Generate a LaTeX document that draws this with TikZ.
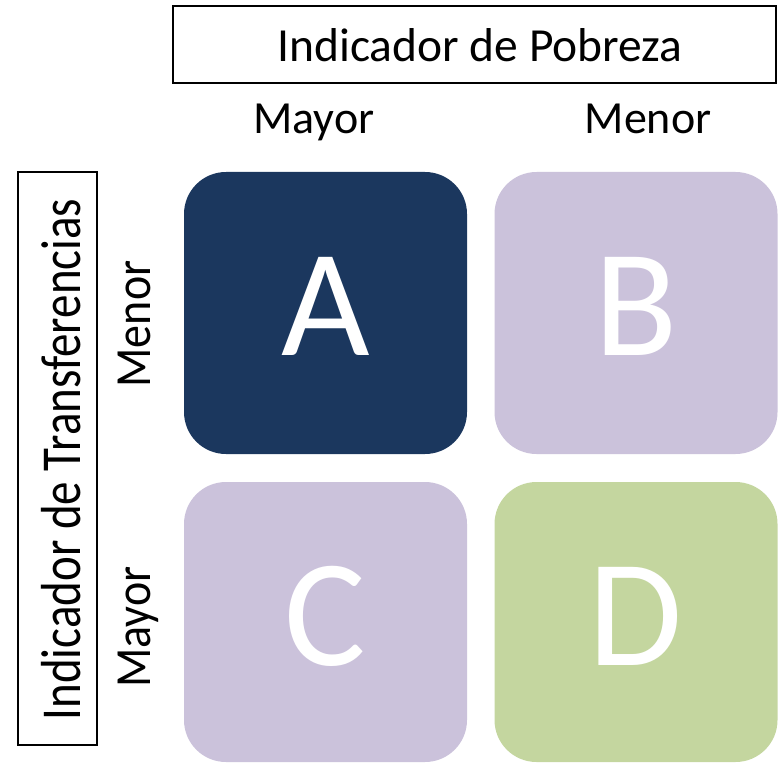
\documentclass[tikz,border=0pt]{standalone}
\usepackage{fontspec}
\setmainfont{Carlito}
\definecolor{navy}{HTML}{1B375E}
\definecolor{lav}{HTML}{CBC2DB}
\definecolor{grn}{HTML}{C4D69F}
\begin{document}
\begin{tikzpicture}[x=1pt,y=-1pt,
  cell/.style={draw=none,rounded corners=42pt,minimum width=283pt,minimum height=282pt,inner sep=0pt},
  letter/.style={text=white,font=\fontsize{153}{160}\selectfont,inner sep=0pt},
  hdrbox/.style={draw=black,line width=1.5pt,inner sep=0pt},
  lbl/.style={font=\fontsize{46}{52}\selectfont,inner sep=0pt,anchor=base}]
\useasboundingbox (0,0) rectangle (778,762);
% header boxes
\node[hdrbox,minimum width=603pt,minimum height=77pt] (top) at (474.5,44.5) {};
\node[lbl,font=\fontsize{47.5}{54}\selectfont] (toptext) at (480,62) {Indicador de Pobreza};
\node[hdrbox,minimum width=79pt,minimum height=573pt] (left) at (57.5,458.5) {};
\node[lbl,font=\fontsize{47}{54}\selectfont,rotate=90] (lefttext) at (80,459.5) {\scalebox{1}[1.2]{Indicador de Transferencias}};
% axis labels
\node[lbl] (mayorT) at (314,134) {Mayor};
\node[lbl] (menorT) at (648,134) {Menor};
\node[lbl,rotate=90] (menorL) at (150,324) {\scalebox{1}[1.1]{Menor}};
\node[lbl,rotate=90] (mayorL) at (150,627) {\scalebox{1}[1.1]{Mayor}};
% cells
\node[cell,fill=navy] (A) at (325.5,313) {};
\node[cell,fill=lav] (B) at (636,313) {};
\node[cell,fill=lav,minimum height=280pt] (C) at (325.5,622) {};
\node[cell,fill=grn,minimum height=280pt] (D) at (636,622) {};
\node[letter] (LA) at (325.5,306.5) {A};
\node[letter] (LB) at (636,306.5) {B};
\node[letter] (LC) at (325.5,616) {C};
\node[letter] (LD) at (636,616) {D};
\end{tikzpicture}
\end{document}
